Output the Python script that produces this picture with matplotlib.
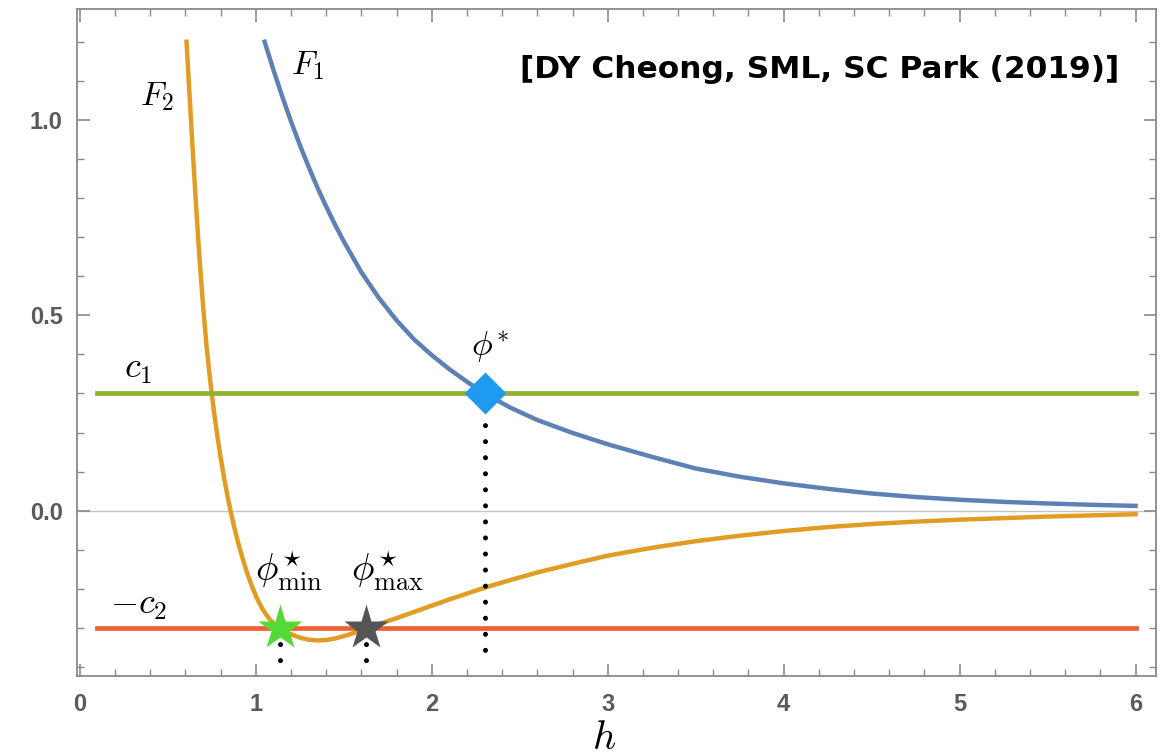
import matplotlib
matplotlib.use("Agg")
import matplotlib.pyplot as plt
from matplotlib.ticker import MultipleLocator, FormatStrFormatter

plt.rcParams['mathtext.fontset'] = 'cm'

# curves
h1 = [1.05, 1.10, 1.15, 1.20, 1.25, 1.30, 1.35, 1.40, 1.45, 1.50, 1.60, 1.70,
      1.80, 1.90, 2.00, 2.10, 2.20, 2.30, 2.45, 2.60, 2.80, 3.00, 3.25, 3.50,
      3.75, 4.00, 4.25, 4.50, 4.75, 5.00, 5.25, 5.50, 5.75, 6.00]
f1 = [1.200, 1.128, 1.060, 0.996, 0.936, 0.880, 0.827, 0.778, 0.732, 0.689, 0.610, 0.544,
      0.487, 0.438, 0.398, 0.362, 0.330, 0.300, 0.263, 0.232, 0.199, 0.170, 0.138, 0.108,
      0.087, 0.070, 0.056, 0.044, 0.035, 0.028, 0.0226, 0.0185, 0.0151, 0.0124]

h2 = [0.606, 0.62, 0.64, 0.66, 0.68, 0.70, 0.72, 0.74, 0.76, 0.78, 0.80, 0.82,
      0.84, 0.86, 0.88, 0.90, 0.92, 0.95, 0.98, 1.01, 1.04, 1.07, 1.10, 1.14,
      1.18, 1.22, 1.26, 1.30, 1.35, 1.40, 1.45, 1.50, 1.55, 1.60, 1.65, 1.70,
      1.80, 1.90, 2.00, 2.10, 2.20, 2.30, 2.45, 2.60, 2.80, 3.00, 3.25, 3.50,
      3.75, 4.00, 4.25, 4.50, 4.75, 5.00, 5.25, 5.50, 5.75, 6.00]
f2 = [1.200, 1.089, 0.933, 0.783, 0.645, 0.525, 0.421, 0.335, 0.261, 0.195, 0.136, 0.083,
      0.035, -0.008, -0.047, -0.083, -0.115, -0.159, -0.196, -0.228, -0.253, -0.273, -0.288, -0.302,
      -0.312, -0.320, -0.326, -0.330, -0.332, -0.331, -0.327, -0.321, -0.314, -0.306, -0.298, -0.290,
      -0.275, -0.259, -0.243, -0.227, -0.212, -0.197, -0.177, -0.158, -0.136, -0.115, -0.095, -0.078,
      -0.064, -0.052, -0.042, -0.034, -0.028, -0.023, -0.019, -0.015, -0.012, -0.009]

h_span = [0.1, 6.0]
c1 = 0.3
c2 = 0.3

phi_star = 2.30
phi_min = 1.14
phi_max = 1.624

blue = '#5E81B5'
orange = '#E19C24'
green = '#8FB032'
red = '#EB6235'

fig = plt.figure(figsize=(11.73, 7.56), dpi=100)
ax = fig.add_axes([0.0654, 0.1058, 0.9204, 0.8819])

ax.axhline(0, color='#c4c4c4', lw=1.0, zorder=1)

ax.plot(h1, f1, color=blue, lw=3.2, zorder=2, solid_joinstyle='round')
ax.plot(h2, f2, color=orange, lw=3.2, zorder=2, solid_joinstyle='round')
ax.plot(h_span, [c1, c1], color=green, lw=3.4, zorder=3)
ax.plot(h_span, [-c2, -c2], color=red, lw=3.4, zorder=3)

# dotted drop lines
dots = dict(color='black', lw=3.6, linestyle=(0, (0.01, 3.2)),
            dash_capstyle='round', zorder=4)
ax.plot([phi_star, phi_star], [c1, -0.37], **dots)
ax.plot([phi_min, phi_min], [-c2, -0.40], **dots)
ax.plot([phi_max, phi_max], [-c2, -0.40], **dots)

ax.plot([phi_star], [c1], marker='D', ms=21, color='#1E9AF0', mec='none', zorder=6)
ax.plot([phi_min], [-c2], marker='*', ms=34, color='#55D935', mec='none', zorder=6)
ax.plot([phi_max], [-c2], marker='*', ms=34, color='#555555', mec='none', zorder=6)

ax.text(0.437, 1.059, r'$F_2$', fontsize=24, ha='center', va='center')
ax.text(1.297, 1.138, r'$F_1$', fontsize=24, ha='center', va='center')
ax.text(0.33, 0.362, r'$c_1$', fontsize=26, ha='center', va='center')
ax.text(0.335, -0.242, r'$-c_2$', fontsize=26, ha='center', va='center')
ax.text(2.225, 0.395, r'$\phi^{\!*}$', fontsize=25, ha='left', va='baseline')
ax.text(0.995, -0.182, r'$\phi^{\!\star}_{\mathrm{min}}$', fontsize=27, ha='left', va='baseline')
ax.text(1.540, -0.182, r'$\phi^{\!\star}_{\mathrm{max}}$', fontsize=27, ha='left', va='baseline')

ax.text(5.907, 1.128, '[DY Cheong, SML, SC Park (2019)]', ha='right', va='center',
        fontsize=22.5, fontweight='bold', family='DejaVu Sans')

ax.set_xlim(-0.018, 6.118)
ax.set_ylim(-0.423, 1.283)
ax.xaxis.set_major_locator(MultipleLocator(1))
ax.xaxis.set_minor_locator(MultipleLocator(0.2))
ax.yaxis.set_major_locator(MultipleLocator(0.5))
ax.yaxis.set_minor_locator(MultipleLocator(0.1))
ax.xaxis.set_major_formatter(FormatStrFormatter('%d'))
ax.yaxis.set_major_formatter(FormatStrFormatter('%.1f'))

ax.tick_params(which='both', direction='in', top=True, right=True, color='#8a8a8a')
ax.tick_params(which='major', length=9, width=1.2)
ax.tick_params(which='minor', length=5, width=1.0)
ax.tick_params(axis='x', pad=12)
ax.tick_params(axis='y', pad=10)
for t in ax.get_xticklabels() + ax.get_yticklabels():
    t.set_family('Liberation Sans')
    t.set_fontweight('bold')
    t.set_fontsize(17)
    t.set_color('#5a5a5a')
for s in ax.spines.values():
    s.set_color('#8a8a8a')
    s.set_linewidth(1.3)

fig.text(604 / 1173, 1 - 738 / 756, r'$h$', fontsize=29, ha='center', va='center')

fig.savefig('out.png', dpi=100)
